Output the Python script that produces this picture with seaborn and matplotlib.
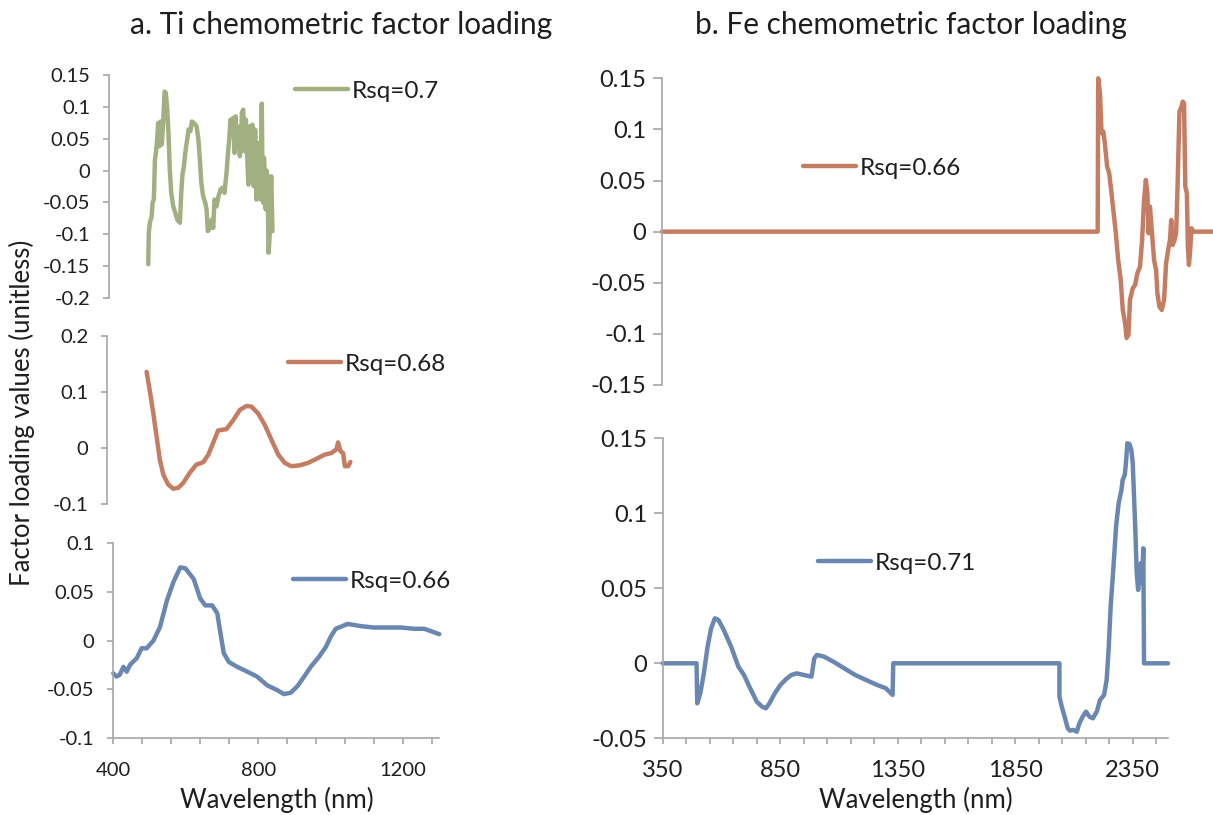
import matplotlib
matplotlib.use("Agg")
import matplotlib.pyplot as plt
import seaborn as sns
from matplotlib.ticker import FixedLocator, MultipleLocator, FuncFormatter

# ---------------- data ----------------
# a. Ti, top (green), Rsq=0.7
ti1_wl = [507.6, 509, 512, 517, 519.5, 523, 526, 528.7, 532, 535, 538, 541.6, 545, 549, 552.6, 556,
          560, 563.7, 567, 571, 576.5, 582, 587.6, 595, 598.6, 602, 606, 609.6, 615, 618.8, 624, 628,
          633.5, 641, 646, 650, 654, 659, 665, 668.5, 672, 677.7, 683, 686.9, 690.5, 696, 701.6, 707,
          712.6, 718, 723.6, 727, 731, 734.7, 738, 742, 745.7, 749, 753, 756.8, 760.5, 762.5, 764, 766,
          769.6, 773, 775, 777, 780.7, 784, 786, 788, 791.7, 793, 795, 797, 799, 802.7, 806, 808, 810,
          813.8, 815, 817.5, 819, 821, 823, 825, 827, 828.5, 830, 832, 834, 836, 838, 839.5, 841, 843,
          845, 847, 849, 850.6]
ti1_val = [-0.147, -0.098, -0.082, -0.0716, -0.0507, -0.045, 0.017, 0.0277, 0.0486, 0.0747, 0.038, 0.077,
           0.041, 0.080, 0.124, 0.122, 0.0956, 0.0538, 0.0016, -0.035, -0.056, -0.066, -0.077, -0.082,
           -0.035, -0.0063, 0.0068, 0.0277, 0.0486, 0.0643, 0.062, 0.077, 0.0747, 0.0695, 0.0486, 0.017,
           -0.0193, -0.040, -0.0507, -0.061, -0.095, -0.090, -0.077, -0.090, -0.0455, -0.056, -0.040,
           -0.0298, -0.027, -0.035, -0.0037, 0.0225, 0.0486, 0.080, 0.0617, 0.0826, 0.0277, 0.0852, 0.038,
           0.0643, 0.0225, 0.070, 0.030, 0.090, 0.0956, 0.0538, 0.030, 0.080, 0.0225, -0.022, 0.060,
           0.0695, 0.017, 0.050, 0.072, -0.010, -0.0246, 0.0643, -0.0455, -0.009, 0.020, 0.0434, -0.020,
           -0.0455, 0.040, 0.105, -0.020, -0.0507, 0.020, 0.0016, -0.040, -0.061, 0.0, -0.009, -0.060,
           -0.129, -0.120, -0.098, -0.040, -0.009, -0.060, -0.095]

# a. Ti, middle (orange), Rsq=0.68
ti2_wl = [508.5, 517.7, 527, 536, 545, 554.5, 568, 582, 596, 610, 628, 646, 665, 679, 692, 706, 729, 748,
          766, 784, 798, 816, 835, 853, 872, 890, 908, 931, 954, 977, 1000, 1019, 1033, 1037, 1044, 1051,
          1056, 1065, 1071]
ti2_val = [0.136, 0.1006, 0.062, 0.0207, -0.0207, -0.0473, -0.065, -0.0728, -0.071, -0.062, -0.044,
           -0.0296, -0.0254, -0.0118, 0.0089, 0.0314, 0.0337, 0.050, 0.068, 0.075, 0.074, 0.062, 0.041,
           0.0148, -0.0118, -0.0266, -0.0325, -0.031, -0.0266, -0.0195, -0.0118, -0.0089, -0.002, 0.010,
           -0.006, -0.009, -0.0325, -0.0325, -0.025]

# a. Ti, bottom (blue), Rsq=0.66
ti3_wl = [400, 409, 418, 428, 437, 446, 465, 478, 492, 511, 529, 548, 566, 585, 599, 622, 640, 654, 673,
          687, 696, 705, 719, 742, 770, 797, 825, 853, 871, 890, 908, 927, 945, 968, 987, 1000, 1014,
          1047, 1084, 1120, 1157, 1194, 1231, 1259, 1282, 1300]
ti3_val = [-0.0337, -0.037, -0.035, -0.027, -0.032, -0.025, -0.018, -0.008, -0.008, 0.0, 0.014, 0.041,
           0.060, 0.075, 0.074, 0.063, 0.043, 0.036, 0.036, 0.028, 0.007, -0.013, -0.022, -0.027,
           -0.032, -0.037, -0.046, -0.051, -0.055, -0.0535, -0.047, -0.037, -0.027, -0.0167, -0.0065,
           0.0037, 0.012, 0.017, 0.0147, 0.0133, 0.0133, 0.0133, 0.012, 0.012, 0.0089, 0.0065]

# b. Fe, top (orange), Rsq=0.66
fe1_wl = [350, 2050, 2052, 2059, 2065, 2072, 2078, 2087, 2095, 2104, 2111, 2121, 2130, 2140, 2148, 2157,
          2163, 2170, 2176, 2187, 2196, 2205, 2215, 2223, 2231, 2238, 2244, 2249, 2254, 2262, 2270, 2278,
          2283, 2291, 2300, 2309, 2317, 2325, 2332, 2337, 2343, 2350, 2356, 2361, 2369, 2377, 2382, 2387,
          2392, 2398, 2402, 2406, 2411, 2416, 2422, 2500]
fe1_val = [0, 0, 0.150, 0.1354, 0.0963, 0.0979, 0.0865, 0.0636, 0.0571, 0.0376, 0.0212, -0.0016,
           -0.0277, -0.0473, -0.0766, -0.0897, -0.104, -0.101, -0.0668, -0.0554, -0.0522, -0.0407,
           -0.0342, -0.0098, 0.031, 0.0506, 0.0376, -0.0016, 0.0245, -0.0016, -0.0277, -0.0375, -0.0603,
           -0.0734, -0.0766, -0.0668, -0.0309, -0.0179, -0.0081, 0.0114, -0.013, -0.0081, -0.0016,
           0.0376, 0.1174, 0.1223, 0.1272, 0.1256, 0.044, 0.0376, -0.0147, -0.0326, -0.0179, 0.0033, 0, 0]

# b. Fe, bottom (blue), Rsq=0.71
fe2_wl = [350, 494, 497, 510, 525, 541, 556, 572, 587, 610, 641, 672, 696, 719, 750, 773, 789, 804, 827,
          851, 874, 897, 920, 951, 983, 995, 1006, 1037, 1076, 1122, 1169, 1215, 1262, 1300, 1328, 1331,
          2038, 2038, 2048, 2062, 2073, 2083, 2097, 2112, 2123, 2137, 2151, 2166, 2180, 2197, 2211, 2228,
          2239, 2248, 2256, 2268, 2279, 2290, 2302, 2307, 2316, 2321, 2327, 2336, 2344, 2350, 2355, 2361,
          2367, 2373, 2378, 2384, 2390, 2395, 2398, 2500]
fe2_val = [0, 0, -0.0267, -0.02, -0.0067, 0.0111, 0.0233, 0.030, 0.0289, 0.0222, 0.0111, -0.0022,
           -0.0078, -0.0156, -0.0256, -0.0289, -0.030, -0.0267, -0.020, -0.0144, -0.0107, -0.0078,
           -0.0067, -0.0078, -0.0089, 0.0033, 0.0056, 0.0044, 0.0011, -0.0033, -0.0078, -0.0111,
           -0.0144, -0.0167, -0.0211, 0, 0, -0.0222, -0.0289, -0.0367, -0.0433, -0.0449, -0.0444,
           -0.0456, -0.040, -0.0356, -0.0322, -0.0356, -0.0367, -0.0322, -0.0244, -0.0211, -0.0111,
           0.0111, 0.0378, 0.0644, 0.0911, 0.1067, 0.1156, 0.1222, 0.1256, 0.1333, 0.1467, 0.1462,
           0.1422, 0.1333, 0.1133, 0.0889, 0.060, 0.0489, 0.0578, 0.0667, 0.0533, 0.0767, 0, 0]

labels = ["Rsq=0.7", "Rsq=0.68", "Rsq=0.66", "Rsq=0.66", "Rsq=0.71"]
titles = ["a. Ti chemometric factor loading", "b. Fe chemometric factor loading"]
xlab = "Wavelength (nm)"
ylab = "Factor loading values (unitless)"

GREEN = "#A2AF80"
ORANGE = "#C47D62"
BLUE = "#6A87B1"
AXC = "#A6A6A6"
TXT = "#1E1E1E"

# ---------------- style ----------------
sns.set_style("white")
plt.rcParams["font.family"] = ["Lato", "DejaVu Sans"]
plt.rcParams["axes.unicode_minus"] = False

W, H = 1213, 815
fig = plt.figure(figsize=(W / 100, H / 100), dpi=100)
gfmt = FuncFormatter(lambda v, p: "%g" % round(v, 4))


def add_ax(x0, x1, ytop, ybot):
    return fig.add_axes([x0 / W, 1 - ybot / H, (x1 - x0) / W, (ybot - ytop) / H])


def style(ax, show_x, ylim, ystep, tick_len=4.3, pad=9.5, lsize=14.5, xpad=9):
    ax.set_ylim(*ylim)
    ax.yaxis.set_major_locator(MultipleLocator(ystep))
    ax.yaxis.set_major_formatter(gfmt)
    for s in ["top", "right"]:
        ax.spines[s].set_visible(False)
    ax.spines["left"].set_color(AXC)
    ax.spines["left"].set_linewidth(1.2)
    ax.tick_params(axis="y", direction="out", length=tick_len, width=1.2, color=AXC,
                   pad=pad, labelsize=lsize, labelcolor=TXT, left=True)
    if show_x:
        ax.spines["bottom"].set_color(AXC)
        ax.spines["bottom"].set_linewidth(1.2)
        ax.tick_params(axis="x", which="both", direction="out", length=4.5, width=1.2,
                       color=AXC, pad=xpad, labelsize=lsize, labelcolor=TXT, bottom=True)
    else:
        ax.spines["bottom"].set_visible(False)
        ax.set_xticks([])
    ax.grid(False)
    ax.set_xlabel("")
    ax.set_ylabel("")


def draw(ax, x, y, color, label):
    sns.lineplot(x=x, y=y, ax=ax, color=color, lw=3.2, estimator=None, sort=False,
                 solid_capstyle="round", solid_joinstyle="round", label=label, legend=False)


def legend(ax, fx, fy):
    ax.legend(handles=ax.get_lines(), loc="center left", bbox_to_anchor=(fx / W, 1 - fy / H),
              bbox_transform=fig.transFigure, frameon=False, fontsize=17.5, handlelength=2.2,
              handletextpad=0.15, borderpad=0, borderaxespad=0, labelcolor=TXT)


# Left column
ax1 = add_ax(109.3, 435.3, 75, 298)
draw(ax1, ti1_wl, ti1_val, GREEN, labels[0])
ax1.set_xlim(400, 1300)
style(ax1, False, (-0.2, 0.15), 0.05)
legend(ax1, 295, 91)

ax2 = add_ax(107.3, 433.3, 336, 504)
draw(ax2, ti2_wl, ti2_val, ORANGE, labels[1])
ax2.set_xlim(400, 1300)
style(ax2, False, (-0.1, 0.2), 0.1)
legend(ax2, 288, 364)

ax3 = add_ax(113.3, 439.3, 543, 738)
draw(ax3, ti3_wl, ti3_val, BLUE, labels[2])
ax3.set_xlim(400, 1300)
style(ax3, True, (-0.1, 0.1), 0.05, xpad=13)
ax3.xaxis.set_major_locator(FixedLocator([400, 800, 1200]))
ax3.xaxis.set_minor_locator(FixedLocator(list(range(480, 1300, 80))))
legend(ax3, 293, 581)

# Right column
ax4 = add_ax(662, 1213, 78.3, 385)
draw(ax4, fe1_wl, fe1_val, ORANGE, labels[3])
ax4.set_xlim(350, 2500)
style(ax4, False, (-0.15, 0.15), 0.05, tick_len=6.2, pad=5, lsize=17)
legend(ax4, 803, 168)

ax5 = add_ax(662.7, 1168, 438.3, 738.3)
draw(ax5, fe2_wl, fe2_val, BLUE, labels[4])
ax5.set_xlim(350, 2500)
style(ax5, True, (-0.05, 0.15), 0.05, tick_len=6.2, pad=5, lsize=17, xpad=11)
ax5.xaxis.set_major_locator(FixedLocator([350, 850, 1350, 1850, 2350]))
ax5.xaxis.set_minor_locator(FixedLocator([v for v in range(450, 2500, 100) if (v - 350) % 500]))
legend(ax5, 818, 563)

for ax in (ax1, ax2, ax3, ax4, ax5):
    for ln in ax.get_lines():
        ln.set_clip_on(False)

# Texts
fig.text(341 / W, 1 - 25 / H, titles[0], ha="center", va="center", fontsize=21.5, color=TXT)
fig.text(911 / W, 1 - 25 / H, titles[1], ha="center", va="center", fontsize=21.5, color=TXT)
fig.text(22 / W, 1 - 413 / H, ylab, ha="center", va="center", rotation=90, fontsize=18.5, color=TXT)
fig.text(277 / W, 1 - 800 / H, xlab, ha="center", va="center", fontsize=18.5, color=TXT)
fig.text(916 / W, 1 - 800 / H, xlab, ha="center", va="center", fontsize=18.5, color=TXT)

fig.savefig("out.png", dpi=100)
